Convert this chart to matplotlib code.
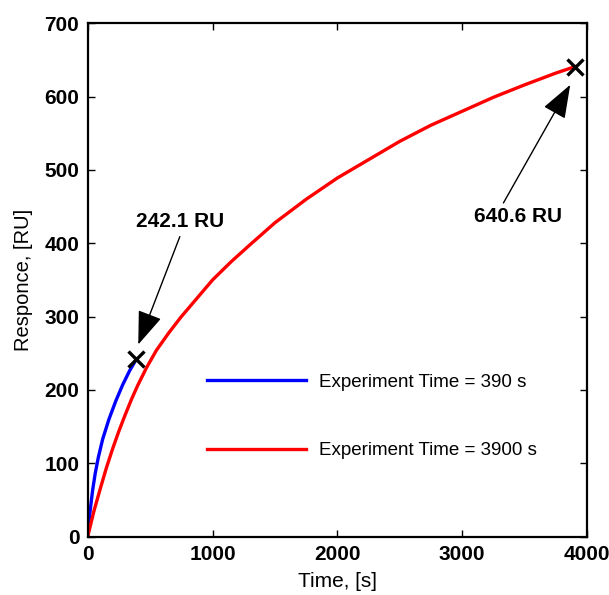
import matplotlib
matplotlib.use("Agg")
import matplotlib.pyplot as plt

plt.rcParams['font.family'] = ['Liberation Sans', 'DejaVu Sans']

# Sensorgram for the short run (390 s)
t_short = [0, 10, 20, 40, 60, 85, 120, 170, 225, 280, 335, 390]
r_short = [0, 19, 36, 64, 86, 108, 133, 160, 185, 207, 226, 242.1]

# Sensorgram for the long run (3900 s)
t_long = [0, 50, 100, 150, 200, 250, 300, 350, 400, 470, 550, 650, 750,
          850, 1000, 1150, 1300, 1500, 1750, 2000, 2250, 2500, 2750, 3000,
          3250, 3500, 3750, 3900]
r_long = [0, 35, 65, 94, 120, 144, 166, 187, 206, 230, 254, 278, 300,
          320, 350, 375, 398, 428, 460, 489, 514, 539, 561, 580,
          599, 616, 632, 640.6]

labels = ['Experiment Time = 390 s', 'Experiment Time = 3900 s']
x_ticks = [0, 1000, 2000, 3000, 4000]
y_ticks = [0, 100, 200, 300, 400, 500, 600, 700]

fig = plt.figure(figsize=(6.09, 5.95), dpi=100)
ax = fig.add_axes([0.144, 0.098, 0.820, 0.863])

l1, = ax.plot(t_short, r_short, color=(0, 0, 1), lw=2.4, label=labels[0],
              solid_joinstyle='round')
l2, = ax.plot(t_long, r_long, color=(1, 0, 0), lw=2.4, label=labels[1],
              solid_joinstyle='round')

# end-point markers
ax.plot([t_short[-1]], [r_short[-1]], 'x', color='black', ms=12, mew=2.4)
ax.plot([t_long[-1]], [r_long[-1]], 'x', color='black', ms=12, mew=2.4)

arrow = dict(arrowstyle='-|>,head_length=1.5,head_width=0.55', color='black',
             lw=1.0, mutation_scale=14, shrinkA=0, shrinkB=0)
ax.annotate('', xy=(405, 262), xytext=(738, 409), arrowprops=arrow)
ax.text(739, 429, f'{r_short[-1]:.1f} RU', ha='center', va='center',
        fontsize=15, fontweight='bold')
ax.annotate('', xy=(3865, 616), xytext=(3330, 455), arrowprops=arrow)
ax.text(3449, 437, f'{r_long[-1]:.1f} RU', ha='center', va='center',
        fontsize=15, fontweight='bold')

ax.legend(handles=[l1, l2], loc='center left', frameon=False,
          bbox_to_anchor=(0.238, 0.234), borderpad=0, borderaxespad=0,
          handlelength=5.3, handletextpad=0.7, labelspacing=2.75,
          prop={'size': 13.5})

ax.set_xlim(0, 4000)
ax.set_ylim(0, 700)
ax.set_xticks(x_ticks)
ax.set_yticks(y_ticks)
ax.tick_params(direction='in', length=5, width=1, top=True, right=True,
               labelsize=15, pad=6)
for lab in ax.get_xticklabels() + ax.get_yticklabels():
    lab.set_fontweight('bold')
for sp in ax.spines.values():
    sp.set_linewidth(1.6)

ax.set_xlabel('Time, [s]', fontsize=15, labelpad=6)
ax.set_ylabel('Responce, [RU]', fontsize=14.5, labelpad=8)

fig.savefig('out.png', dpi=100)
